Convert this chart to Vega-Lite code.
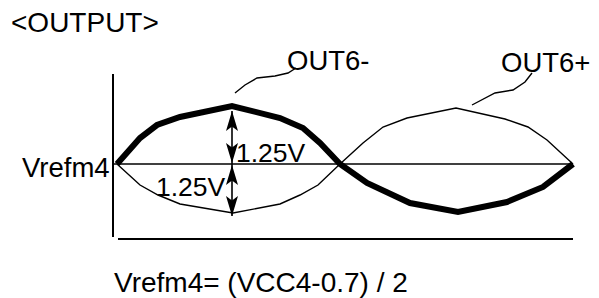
{
  "$schema": "https://vega.github.io/schema/vega-lite/v6.json",
  "width": 599,
  "height": 298,
  "padding": 0,
  "autosize": {"type": "fit", "contains": "padding"},
  "background": "white",
  "config": {"view": {"stroke": null}},
  "datasets": {
    "outMinus": [
      {"x": 117, "y": 164}, {"x": 140, "y": 138}, {"x": 157, "y": 125}, {"x": 180, "y": 117},
      {"x": 232, "y": 106}, {"x": 280, "y": 118}, {"x": 303, "y": 128}, {"x": 320, "y": 143},
      {"x": 340, "y": 164}, {"x": 367, "y": 183}, {"x": 410, "y": 203}, {"x": 458, "y": 212},
      {"x": 507, "y": 202}, {"x": 543, "y": 187}, {"x": 573, "y": 164}
    ],
    "outPlus": [
      {"x": 117, "y": 164}, {"x": 140, "y": 185}, {"x": 158, "y": 195}, {"x": 180, "y": 204},
      {"x": 233, "y": 213}, {"x": 280, "y": 204}, {"x": 300, "y": 195}, {"x": 318, "y": 185},
      {"x": 340, "y": 164}, {"x": 363, "y": 143}, {"x": 383, "y": 127}, {"x": 407, "y": 118},
      {"x": 456, "y": 108}, {"x": 505, "y": 119}, {"x": 528, "y": 127}, {"x": 547, "y": 140},
      {"x": 573, "y": 164}
    ],
    "leaders": [
      {"name": "OUT6-", "x": 235, "y": 93}, {"name": "OUT6-", "x": 245, "y": 85},
      {"name": "OUT6-", "x": 257, "y": 78}, {"name": "OUT6-", "x": 275, "y": 76},
      {"name": "OUT6-", "x": 288, "y": 73}, {"name": "OUT6-", "x": 296, "y": 68},
      {"name": "OUT6+", "x": 472, "y": 105}, {"name": "OUT6+", "x": 495, "y": 93},
      {"name": "OUT6+", "x": 513, "y": 90}, {"name": "OUT6+", "x": 525, "y": 82},
      {"name": "OUT6+", "x": 532, "y": 73}
    ],
    "axesLines": [
      {"x": 113, "y": 74, "x2": 113, "y2": 237},
      {"x": 118, "y": 239, "x2": 573, "y2": 239}
    ],
    "midLine": [{"x": 113, "y": 164, "x2": 573, "y2": 164}],
    "shaft": [{"x": 232, "y": 111, "x2": 232, "y2": 216}],
    "headsUp": [{"x": 232, "y": 111}, {"x": 232, "y": 165}],
    "headsDown": [{"x": 232, "y": 163}, {"x": 232, "y": 216}],
    "labels": [
      {"kind": "heading", "text": "<OUTPUT>", "x": 11, "y": 32},
      {"kind": "name", "text": "OUT6-", "x": 287, "y": 70},
      {"kind": "name", "text": "OUT6+", "x": 501, "y": 72},
      {"kind": "name", "text": "Vrefm4", "x": 22, "y": 177},
      {"kind": "amplitude", "text": "1.25V", "x": 236, "y": 162},
      {"kind": "amplitude", "text": "1.25V", "x": 156, "y": 196},
      {"kind": "heading", "text": "Vrefm4= (VCC4-0.7) / 2", "x": 114, "y": 292}
    ]
  },
  "layer": [
    {
      "data": {"name": "axesLines"},
      "mark": {"type": "rule", "color": "black", "strokeWidth": 2},
      "encoding": {
        "x": {"field": "x", "type": "quantitative", "scale": {"domain": [0, 599], "nice": false, "zero": false}, "axis": null},
        "y": {"field": "y", "type": "quantitative", "scale": {"domain": [0, 298], "nice": false, "zero": false, "reverse": true}, "axis": null},
        "x2": {"field": "x2"},
        "y2": {"field": "y2"}
      }
    },
    {
      "data": {"name": "midLine"},
      "mark": {"type": "rule", "color": "black", "strokeWidth": 1.4},
      "encoding": {
        "x": {"field": "x", "type": "quantitative", "axis": null},
        "y": {"field": "y", "type": "quantitative", "axis": null},
        "x2": {"field": "x2"},
        "y2": {"field": "y2"}
      }
    },
    {
      "data": {"name": "outPlus"},
      "mark": {"type": "line", "color": "black", "strokeWidth": 1.4},
      "encoding": {
        "x": {"field": "x", "type": "quantitative", "axis": null},
        "y": {"field": "y", "type": "quantitative", "axis": null}
      }
    },
    {
      "data": {"name": "outMinus"},
      "mark": {"type": "line", "color": "black", "strokeWidth": 6},
      "encoding": {
        "x": {"field": "x", "type": "quantitative", "axis": null},
        "y": {"field": "y", "type": "quantitative", "axis": null}
      }
    },
    {
      "data": {"name": "leaders"},
      "mark": {"type": "line", "color": "black", "strokeWidth": 1.4},
      "encoding": {
        "x": {"field": "x", "type": "quantitative", "axis": null},
        "y": {"field": "y", "type": "quantitative", "axis": null},
        "detail": {"field": "name", "type": "nominal"}
      }
    },
    {
      "data": {"name": "shaft"},
      "mark": {"type": "rule", "color": "black", "strokeWidth": 1.6},
      "encoding": {
        "x": {"field": "x", "type": "quantitative", "axis": null},
        "y": {"field": "y", "type": "quantitative", "axis": null},
        "x2": {"field": "x2"},
        "y2": {"field": "y2"}
      }
    },
    {
      "data": {"name": "headsUp"},
      "mark": {"type": "point", "shape": "M0,-1L0.6,1L0,0.55L-0.6,1Z", "size": 400, "filled": true, "color": "black", "opacity": 1, "yOffset": 10},
      "encoding": {
        "x": {"field": "x", "type": "quantitative", "axis": null},
        "y": {"field": "y", "type": "quantitative", "axis": null}
      }
    },
    {
      "data": {"name": "headsDown"},
      "mark": {"type": "point", "shape": "M0,1L0.6,-1L0,-0.55L-0.6,-1Z", "size": 400, "filled": true, "color": "black", "opacity": 1, "yOffset": -10},
      "encoding": {
        "x": {"field": "x", "type": "quantitative", "axis": null},
        "y": {"field": "y", "type": "quantitative", "axis": null}
      }
    },
    {
      "data": {"name": "labels"},
      "transform": [{"filter": "datum.kind === 'heading'"}],
      "mark": {"type": "text", "font": "Liberation Sans", "fontSize": 28, "align": "left", "baseline": "alphabetic", "color": "black"},
      "encoding": {
        "x": {"field": "x", "type": "quantitative", "axis": null},
        "y": {"field": "y", "type": "quantitative", "axis": null},
        "text": {"field": "text", "type": "nominal"}
      }
    },
    {
      "data": {"name": "labels"},
      "transform": [{"filter": "datum.kind === 'name'"}],
      "mark": {"type": "text", "font": "Liberation Sans", "fontSize": 27.5, "align": "left", "baseline": "alphabetic", "color": "black"},
      "encoding": {
        "x": {"field": "x", "type": "quantitative", "axis": null},
        "y": {"field": "y", "type": "quantitative", "axis": null},
        "text": {"field": "text", "type": "nominal"}
      }
    },
    {
      "data": {"name": "labels"},
      "transform": [{"filter": "datum.kind === 'amplitude'"}],
      "mark": {"type": "text", "font": "Liberation Sans", "fontSize": 26.5, "align": "left", "baseline": "alphabetic", "color": "black"},
      "encoding": {
        "x": {"field": "x", "type": "quantitative", "axis": null},
        "y": {"field": "y", "type": "quantitative", "axis": null},
        "text": {"field": "text", "type": "nominal"}
      }
    }
  ]
}
